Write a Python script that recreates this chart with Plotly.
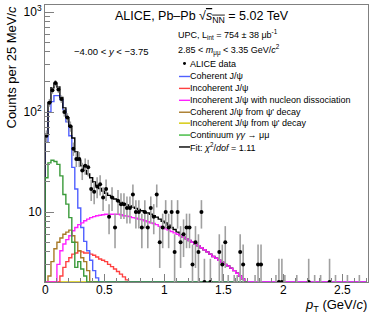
import numpy as np
import plotly.graph_objects as go

# ---------------- data ----------------
bin_width = 0.025
n_bins = 108
# ALICE data: counts per 25 MeV/c bin (index = bin number)
data_counts = [58, 124, 165, 195, 168, 135, 100, 88, 72, 43,
               34, 34, 26, 29, 28, 17, 16, 18, 19, 14,
               17, 9, 14, 7, 13, 12, 12, 11, 11, 15,
               10, 10, 7, 10, 7, 11, 9, 15, 5, 7,
               10, 7, 10, 4, 10, 5, 6, 7, 7, 3,
               5, 4, 10, 2, 0, 2, 0, 0, 4, 3,
               5, 1, 0, 1, 1, 4, 3, 0, 0, 0,
               1, 3, 3, 0, 0, 0, 0, 1, 2, 2,
               1, 0, 0, 0, 1, 0, 0, 0, 2, 0,
               1, 0, 1, 0, 0, 2, 0, 1, 0, 0,
               0, 1, 0, 0, 0, 1, 0, 0]

coherent = [50, 100, 127, 146, 146, 133, 106, 80, 58, 28,
            17, 11, 7, 5.1, 4.1, 3.3, 2.6, 2.2, 1.8]
incoherent = [0, 0, 0, 0, 0, 2.3, 2.8, 3.2, 3.5, 3.8,
              3.9, 4.1, 4.0, 3.9, 3.9, 3.8, 3.7, 3.55, 3.4, 3.3,
              3.2, 3.0, 2.85, 2.7, 2.55, 2.4, 2.25, 2.1, 1.8]
incoh_dissoc = [0, 0, 0, 0, 3.0, 4.1, 4.8, 5.3, 5.8, 6.5,
                7.0, 7.5, 7.8, 8.2, 8.5, 8.8, 9.0, 9.2, 9.3, 9.4,
                9.5, 9.5, 9.5, 9.5, 9.5, 9.4, 9.2, 9.1, 9.0, 8.8,
                8.7, 8.5, 8.4, 8.2, 8.0, 7.8, 7.7, 7.5, 7.2, 7.0,
                6.8, 6.6, 6.4, 6.2, 6.0, 5.8, 5.6, 5.4, 5.2, 5.0,
                4.8, 4.6, 4.4, 4.2, 4.0, 3.8, 3.6, 3.45, 3.3, 3.15,
                3.0, 2.9, 2.75, 2.6, 2.45, 2.3, 2.15, 2.0]
coh_psi2s = [0, 2.3, 3.2, 4.3, 5.0, 5.5, 6.0, 6.3, 6.6, 5.8,
             5.0, 4.1, 3.5, 3.2, 2.6, 1.5]
incoh_psi2s = [0, 0, 0, 0, 0.3, 0.5, 0.7, 0.9, 1.0, 1.1,
               1.2, 1.2, 1.3, 1.3, 1.3, 1.3, 1.2, 1.2, 1.1, 1.0]
continuum = [22, 31, 33, 32, 30, 23, 15, 12, 8.8, 5.0,
             2.8, 3.2, 2.7, 2.3, 1.5]
fit_total = [60, 125, 175, 194, 178, 140, 110, 88, 72, 55,
             40, 33, 29, 26, 24, 22, 20, 18.5, 17.2, 16.2,
             15.4, 14.7, 14.1, 13.5, 13.0, 12.5, 12.1, 11.8, 11.5, 11.2,
             10.9, 10.6, 10.3, 10.0, 9.8, 9.5, 9.2, 8.9, 8.5, 8.1,
             7.8, 7.4, 7.0, 6.7, 6.3, 5.9, 5.6, 5.4, 5.2, 5.0,
             4.8, 4.6, 4.4, 4.2, 4.0, 3.8, 3.6, 3.45, 3.3, 3.15,
             3.0, 2.9, 2.75, 2.6, 2.45, 2.3, 2.15, 2.0]

x_tickvals = [0, 0.5, 1, 1.5, 2, 2.5]
x_ticktext = ["0", "0.5", "1", "1.5", "2", "2.5"]
y_tickvals = [10, 100, 1000]
y_ticktext = ["10", "10<sup>2</sup>", "10<sup>3</sup>"]

# ---------------- geometry helpers ----------------
W, H = 374, 317
ML, MR, MT, MB = 45, 6, 3, 35
PW, PH = W - ML - MR, H - MT - MB
YMIN = 2.0
X_MAX = 2.71


def px(x):
    return (x - ML) / PW


def py(y):
    return (H - MB - y) / PH


edges = np.arange(n_bins + 1) * bin_width

fig = go.Figure()


def add_hist(vals, color, nb=n_bins, width=1.4):
    v = np.zeros(nb)
    v[:len(vals)] = vals
    v = np.clip(v, YMIN, None)
    e = edges[:nb + 1]
    xs = np.concatenate([[0.0], e])
    ys = np.concatenate([[YMIN], v, [v[-1]]])
    fig.add_trace(go.Scatter(x=xs, y=ys, mode="lines", line=dict(color=color, width=width, shape="hv"),
                             hoverinfo="skip", showlegend=False, cliponaxis=True))


add_hist(incoh_psi2s, "#d4c800")
add_hist(incoherent, "#ff4040")
add_hist(coh_psi2s, "#a87a28")
add_hist(coherent, "#5060ff")
add_hist(fit_total, "#000000", nb=68)
add_hist(incoh_dissoc, "#ff20ff")
add_hist(continuum, "#3a9a3a", nb=68)

cnt = np.array(data_counts, dtype=float)
centers = edges[:len(cnt)] + bin_width / 2
mask = cnt > 0
c = cnt[mask]
err_up = np.where(c == 1, 1.35, np.sqrt(c))
err_dn = np.minimum(np.sqrt(c), c * 0.999)
fig.add_trace(go.Scatter(
    x=centers[mask], y=c, mode="markers",
    marker=dict(color="black", size=4),
    error_y=dict(type="data", symmetric=False, array=err_up, arrayminus=err_dn,
                 color="#a0a0a0", thickness=1.6, width=0),
    hoverinfo="skip", showlegend=False, cliponaxis=True))

FONT = "Liberation Sans, Arial, sans-serif"

minor_y = [v * d for d in (1, 10, 100) for v in range(2, 10)]

fig.update_layout(
    width=W, height=H,
    margin=dict(l=ML, r=MR, t=MT, b=MB),
    paper_bgcolor="white", plot_bgcolor="white",
    font=dict(family=FONT, size=12, color="black"),
    xaxis=dict(range=[0, X_MAX], showgrid=False, zeroline=False,
               showline=True, linecolor="#808080", linewidth=1, mirror=True,
               ticks="inside", ticklen=8, tickcolor="#808080",
               tickvals=x_tickvals, showticklabels=False,
               minor=dict(ticks="inside", ticklen=4, tickcolor="#808080", dtick=0.1, tick0=0)),
    yaxis=dict(type="log", range=[np.log10(YMIN), 3.07], showgrid=False, zeroline=False,
               showline=True, linecolor="#808080", linewidth=1, mirror=True,
               ticks="inside", ticklen=9, tickcolor="#808080",
               tickvals=y_tickvals, ticktext=y_ticktext,
               tickfont=dict(size=12, family=FONT),
               minor=dict(ticks="inside", ticklen=5, tickcolor="#808080", tickvals=minor_y)),
)

ann = []


def text(x, y, s, size=9, xanchor="left", yanchor="middle", angle=0):
    ann.append(dict(x=px(x), y=py(y), xref="paper", yref="paper", text=s, showarrow=False,
                    xanchor=xanchor, yanchor=yanchor, textangle=angle,
                    font=dict(size=size, family=FONT, color="black")))


# x tick labels
for tv, tt in zip(x_tickvals, x_ticktext):
    ann.append(dict(x=tv, y=py(290), xref="x", yref="paper", text=tt, showarrow=False,
                    xanchor="center", yanchor="middle", font=dict(size=12, family=FONT, color="black")))

text(113, 15, "ALICE, Pb–Pb √<span style='text-decoration:overline'><i>s</i><sub>NN</sub></span> = 5.02 TeV", size=12.5)
text(72, 50, "−4.00 &lt; <i>y</i> &lt; −3.75", size=9.5)
text(176, 33, "UPC, L<sub>int</sub> = 754 ± 38 μb<sup>-1</sup>", size=9)
text(176, 48, "2.85 &lt; <i>m</i><sub>μμ</sub> &lt; 3.35 GeV/<i>c</i><sup>2</sup>", size=9)
rows = [(62, None, "ALICE data"),
        (75, "#5060ff", "Coherent J/ψ"),
        (87, "#ff4040", "Incoherent J/ψ"),
        (99, "#ff20ff", "Incoherent J/ψ with nucleon dissociation"),
        (111, "#a87a28", "Coherent J/ψ from ψ' decay"),
        (122, "#d4c800", "Incoherent J/ψ from ψ' decay"),
        (134, "#3cb83c", "Continuum <i>γγ</i> → μμ"),
        (146, "#000000", "Fit: <i>χ</i><sup>2</sup>/<i>dof</i> = 1.11")]
shapes = []
for yy, col, label in rows:
    text(188, yy, label, size=9)
    if col is None:
        shapes.append(dict(type="circle", xref="paper", yref="paper",
                           x0=px(183), x1=px(186), y0=py(63.5), y1=py(60.5),
                           fillcolor="black", line=dict(width=0)))
    else:
        shapes.append(dict(type="line", xref="paper", yref="paper",
                           x0=px(179), x1=px(190), y0=py(yy), y1=py(yy),
                           line=dict(color=col, width=1.4)))

text(12, 2, "Counts per 25 MeV/<i>c</i>", size=13, xanchor="center", yanchor="top", angle=-90)
text(369, 316, "<i>p</i><sub>T</sub> (GeV/<i>c</i>)", size=13, xanchor="right", yanchor="bottom")

fig.update_layout(annotations=ann, shapes=shapes)
fig.write_html("out.html", config={"displayModeBar": False},
               post_script="document.body.style.margin='0';document.body.style.padding='0';")
